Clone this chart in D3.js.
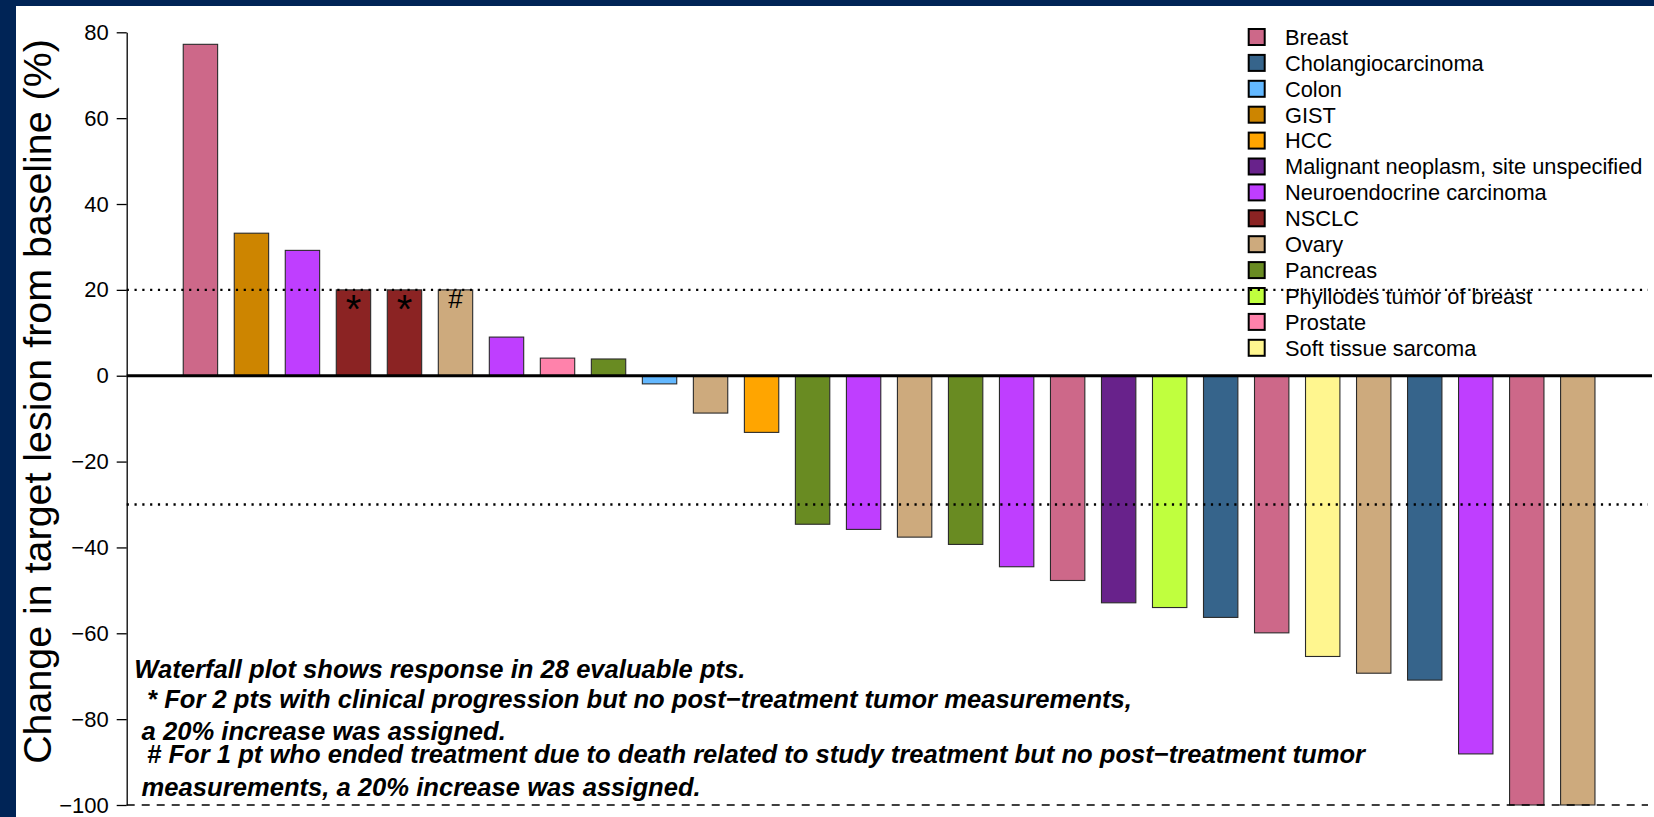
<!DOCTYPE html>
<html>
<head>
<meta charset="utf-8">
<script src="https://cdn.jsdelivr.net/npm/d3@7"></script>
<style>
  html, body { margin: 0; padding: 0; background: #ffffff; }
  svg { display: block; }
  text { font-family: Arial, "Liberation Sans", sans-serif; }
</style>
</head>
<body>
<svg id="chart" width="1654" height="817"></svg>
<script>
// Tumour types (legend order) and their fill colours
const categories = [
  "Breast", "Cholangiocarcinoma", "Colon", "GIST", "HCC",
  "Malignant neoplasm, site unspecified", "Neuroendocrine carcinoma",
  "NSCLC", "Ovary", "Pancreas", "Phyllodes tumor of breast",
  "Prostate", "Soft tissue sarcoma"
];
const categoryColors = [
  "#CD6889", "#36648B", "#63B8FF", "#CD8500", "#FFA500",
  "#68228B", "#BF3EFF", "#8B2323", "#CDAA7D", "#698B22",
  "#C0FF3E", "#FF82AB", "#FFF68F"
];

// One entry per evaluable patient, sorted by best change from baseline
const patientTumor = [
  "Breast", "GIST", "Neuroendocrine carcinoma", "NSCLC", "NSCLC", "Ovary",
  "Neuroendocrine carcinoma", "Prostate", "Pancreas", "Colon", "Ovary", "HCC",
  "Pancreas", "Neuroendocrine carcinoma", "Ovary", "Pancreas",
  "Neuroendocrine carcinoma", "Breast", "Malignant neoplasm, site unspecified",
  "Phyllodes tumor of breast", "Cholangiocarcinoma", "Breast",
  "Soft tissue sarcoma", "Ovary", "Cholangiocarcinoma",
  "Neuroendocrine carcinoma", "Breast", "Ovary"
];
const patientChange = [
  77.2, 33.2, 29.2, 20, 20, 20,
  9.0, 4.1, 3.9, -1.9, -8.7, -13.2,
  -34.6, -35.8, -37.6, -39.3,
  -44.5, -47.7, -52.9,
  -54.0, -56.3, -59.9,
  -65.4, -69.3, -70.9,
  -88.1, -100, -100
];
// Footnote markers placed inside the assigned-value bars
const patientMark = [
  "", "", "", "*", "*", "#", "", "", "", "", "", "", "", "",
  "", "", "", "", "", "", "", "", "", "", "", "", "", ""
];

// Axis and reference lines
const yTicks = [80, 60, 40, 20, 0, -20, -40, -60, -80, -100];
const yDomain = [-100, 80];
const progressionLine = 20;
const responseLine = -30;
const floorLine = -100;

const yTitle = "Change in target lesion from baseline (%)";
const notes = [
  "Waterfall plot shows response in 28 evaluable pts.",
  " * For 2 pts with clinical progression but no post\u2212treatment tumor measurements,",
  " a 20% increase was assigned.",
  " # For 1 pt who ended treatment due to death related to study treatment but no post\u2212treatment tumor",
  " measurements, a 20% increase was assigned."
];

const svg = d3.select("#chart");
const W = 1654, H = 817;

// page background with navy frame strips
svg.append("rect").attr("width", W).attr("height", H).attr("fill", "#ffffff");
svg.append("rect").attr("x", 0).attr("y", 0).attr("width", 16).attr("height", H).attr("fill", "#002456");
svg.append("rect").attr("x", 0).attr("y", 0).attr("width", W).attr("height", 6).attr("fill", "#002456");

const plotLeft = 126.7, plotRight = 1648;
const y = d3.scaleLinear().domain(yDomain).range([805, 32.3]);
const x = d3.scaleBand()
  .domain(d3.range(patientChange.length))
  .range([plotLeft, plotRight])
  .paddingInner(0.326)
  .paddingOuter(1.074)
  .align(0.516);
const color = d3.scaleOrdinal().domain(categories).range(categoryColors);

// bars
svg.append("g").selectAll("rect")
  .data(patientChange)
  .join("rect")
  .attr("x", (d, i) => x(i))
  .attr("width", x.bandwidth())
  .attr("y", d => y(Math.max(0, d)))
  .attr("height", d => Math.abs(y(d) - y(0)))
  .attr("fill", (d, i) => color(patientTumor[i]))
  .attr("stroke", "#2a2a2a")
  .attr("stroke-width", 1.1);

// legend
const legend = svg.append("g").attr("transform", "translate(1247.7,37)");
const rowH = 25.9;
const items = legend.selectAll("g")
  .data(categories)
  .join("g")
  .attr("transform", (d, i) => `translate(0,${i * rowH})`);
items.append("rect")
  .attr("x", 1).attr("y", -8)
  .attr("width", 16).attr("height", 16)
  .attr("fill", d => color(d))
  .attr("stroke", "#000").attr("stroke-width", 2);
items.append("text")
  .attr("x", 37.3).attr("y", 0)
  .attr("dy", "0.36em")
  .attr("font-size", 21.8)
  .attr("fill", "#000")
  .text(d => d);

// reference lines
const refs = svg.append("g");
refs.append("line")
  .attr("x1", plotLeft).attr("x2", plotRight)
  .attr("y1", y(progressionLine)).attr("y2", y(progressionLine))
  .attr("stroke", "#000").attr("stroke-width", 2.4)
  .attr("stroke-dasharray", "2.2,5.6");
refs.append("line")
  .attr("x1", plotLeft).attr("x2", plotRight)
  .attr("y1", y(responseLine)).attr("y2", y(responseLine))
  .attr("stroke", "#000").attr("stroke-width", 2.4)
  .attr("stroke-dasharray", "2.2,5.6");
refs.append("line")
  .attr("x1", plotLeft).attr("x2", plotRight)
  .attr("y1", y(floorLine)).attr("y2", y(floorLine))
  .attr("stroke", "#000").attr("stroke-width", 1.6)
  .attr("stroke-dasharray", "8,7");
refs.append("line")
  .attr("x1", plotLeft).attr("x2", 1652)
  .attr("y1", y(0)).attr("y2", y(0))
  .attr("stroke", "#000").attr("stroke-width", 3);

// markers on assigned bars
svg.append("g").selectAll("text")
  .data(patientMark.map((m, i) => ({ m, i })).filter(d => d.m))
  .join("text")
  .attr("x", d => x(d.i) + x.bandwidth() / 2)
  .attr("y", d => d.m === "*" ? y(patientChange[d.i]) + 33 : y(patientChange[d.i]) + 18)
  .attr("text-anchor", "middle")
  .attr("font-size", d => d.m === "*" ? 40 : 26)
  .attr("fill", "#000")
  .text(d => d.m);

// y axis
const axis = svg.append("g")
  .attr("transform", `translate(${plotLeft},0)`)
  .call(d3.axisLeft(y).tickValues(yTicks).tickSize(10).tickPadding(8).tickSizeOuter(0));
axis.select(".domain").attr("stroke", "#000").attr("stroke-width", 1.3);
axis.selectAll(".tick line").attr("stroke", "#000").attr("stroke-width", 1.3);
axis.selectAll(".tick text")
  .attr("font-size", 22)
  .attr("font-family", "Arial, 'Liberation Sans', sans-serif")
  .attr("fill", "#000");

// y axis title
svg.append("text")
  .attr("transform", "translate(50.5,401.5) rotate(-90)")
  .attr("text-anchor", "middle")
  .attr("font-size", 39.4)
  .attr("fill", "#000")
  .text(yTitle);

// footnotes
const noteX = [134.3, 140, 134.5, 140, 134.5];
const noteY = [678, 708, 740, 763, 796];
svg.append("g").selectAll("text")
  .data(notes)
  .join("text")
  .attr("x", (d, i) => noteX[i])
  .attr("y", (d, i) => noteY[i])
  .attr("font-size", 25.6)
  .attr("font-weight", "bold")
  .attr("font-style", "italic")
  .attr("fill", "#000")
  .attr("xml:space", "preserve")
  .style("white-space", "pre")
  .text(d => d);
</script>
</body>
</html>
